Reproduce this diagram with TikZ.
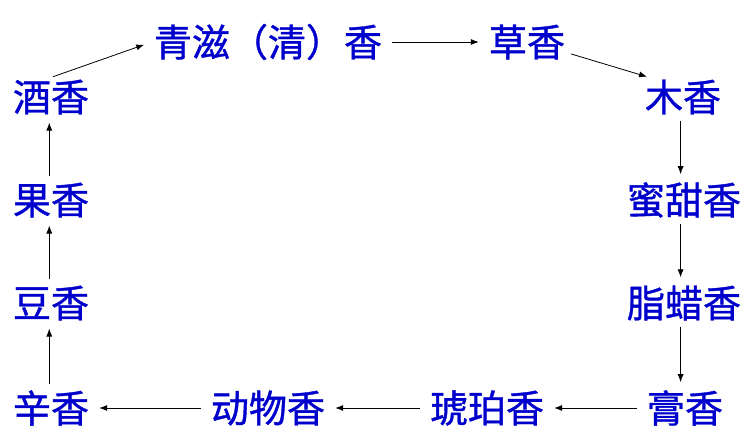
\documentclass[tikz,border=0pt]{standalone}
\usepackage{fontspec}
\usetikzlibrary{arrows.meta}
\newfontfamily\cjk[FakeBold=1]{Noto Sans CJK SC}
\definecolor{xiangblue}{RGB}{0,0,204}
\tikzset{
  xiang/.style={text=xiangblue, font=\cjk\fontsize{38}{44}\selectfont, inner sep=2pt},
  flow/.style={-{Latex[length=8pt,width=6pt]}, line width=0.8pt, shorten <=8pt, shorten >=8pt}
}
\begin{document}
\begin{tikzpicture}[x=1pt,y=-1pt]
                \useasboundingbox (0,0) rectangle (748,435);
                \node[xiang] (qing) at (268,42) {青滋（清）香};
                \node[xiang] (cao) at (527,42) {草香};
                \node[xiang] (mu) at (683,97) {木香};
                \node[xiang] (mi) at (684,200) {蜜甜香};
                \node[xiang] (zhi) at (684,303) {脂蜡香};
                \node[xiang] (gao) at (685,408) {膏香};
                \node[xiang] (hu) at (487,408) {琥珀香};
                \node[xiang] (dong) at (268,408) {动物香};
                \node[xiang] (xin) at (51,408) {辛香};
                \node[xiang] (dou) at (51,303) {豆香};
                \node[xiang] (guo) at (51,200) {果香};
                \node[xiang] (jiu) at (51,97) {酒香};

                \draw[flow, shorten <=2pt] (jiu.north) to (qing.west);
                \draw[flow] (qing) to (cao);
                \draw[flow, shorten <=4pt, shorten >=2pt] (cao.-15) to (mu.150);
                \draw[flow, shorten <=4pt, shorten >=6pt] (mu.-97) to (mi.north -| mu.-97);
                \draw[flow, shorten <=4pt, shorten >=6pt] (mi.south -| mu.-97) to (zhi.north -| mu.-97);
                \draw[flow, shorten <=4pt, shorten >=6pt] (zhi.south -| mu.-97) to (gao.north -| mu.-97);
                \draw[flow] (gao) to (hu); \draw[flow] (hu) to (dong); \draw[flow] (dong) to (xin);
                \draw[flow, shorten <=4pt, shorten >=6pt] (xin.north -| xin.-95) to (dou.south -| xin.-95);
                \draw[flow, shorten <=4pt, shorten >=6pt] (dou.north -| xin.-95) to (guo.south -| xin.-95);
                \draw[flow, shorten <=4pt, shorten >=6pt] (guo.north -| xin.-95) to (jiu.south -| xin.-95);
            \end{tikzpicture}
\end{document}
